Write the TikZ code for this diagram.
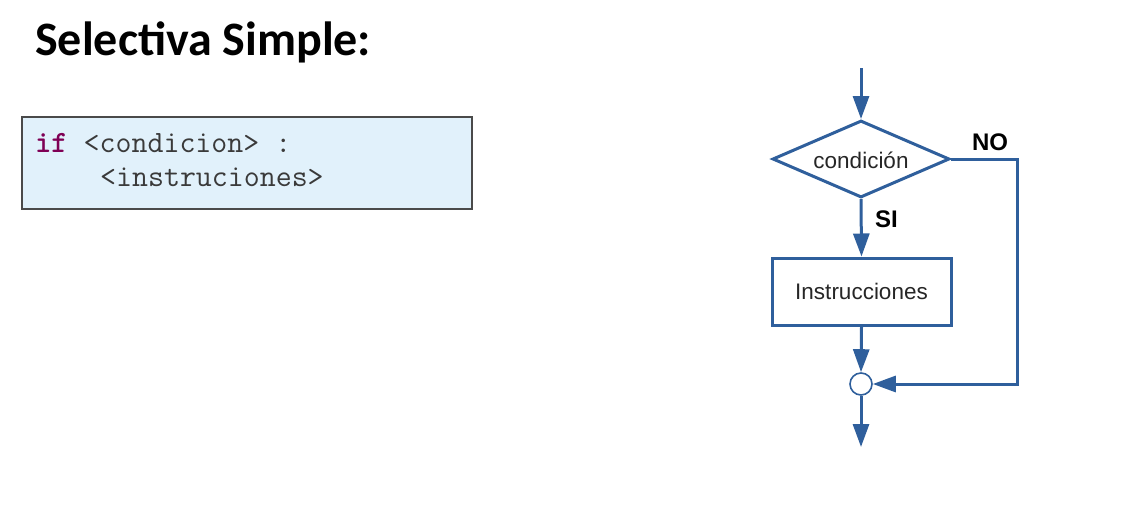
\documentclass[tikz,border=0pt]{standalone}
\usepackage{fontspec}
\setmainfont{Liberation Sans}
\newfontfamily\titlefont{Carlito}
\usetikzlibrary{shapes.geometric,arrows.meta}
\definecolor{flow}{HTML}{2F5F9C}
\definecolor{codebg}{HTML}{E1F1FB}
\definecolor{codeborder}{HTML}{4A4A4A}
\definecolor{codetext}{HTML}{3A3A3A}
\definecolor{kw}{HTML}{7F0055}
\tikzset{
  flowline/.style={draw=flow,line width=3pt},
  flowarrow/.style={flowline,-{Triangle[length=23pt,width=16pt]}},
  lbl/.style={font=\fontsize{22.5}{26}\selectfont,text=black!85},
  blbl/.style={font=\bfseries\fontsize{24}{28}\selectfont,text=black},
  code/.style={anchor=base west,inner sep=0pt,font=\ttfamily\fontsize{31}{36}\selectfont,text=codetext},
}
\begin{document}
\begin{tikzpicture}[x=1pt,y=-1pt]
\useasboundingbox (0,0) rectangle (1145,523);
% title
\node[anchor=base west,inner sep=0pt,font=\titlefont\bfseries\fontsize{48}{56}\selectfont] (title) at (35,55) {Selectiva Simple:};
% code box
\draw[fill=codebg,draw=codeborder,line width=1.6pt] (22,117) rectangle (472,209);
\node[code] (line1) at (35,152) {\textcolor{kw}{\bfseries if} <condicion> :};
\node[code] (line2) at (100,186) {<instruciones>};
% flowchart
\coordinate (start) at (861,68);
\node[diamond,flowline,fill=white,minimum width=177pt,minimum height=77pt,aspect=2.3,inner sep=0pt,lbl] (cond) at (861,159) {};
\node[lbl] at (861,160) {condición};
\node[draw=flow,line width=3pt,minimum width=179pt,minimum height=67pt,inner sep=0pt,lbl] (instr) at (861.5,291.5) {Instrucciones};
\node[circle,draw=flow,line width=1.6pt,fill=white,minimum size=22pt,inner sep=0pt] (join) at (861,384) {};
\coordinate (endp) at (861,447);
\coordinate (corner1) at (1017,159);
\coordinate (corner2) at (1017,384);
\draw[flowarrow] (start) -- (cond.north);
\draw[flowarrow] (cond.south) -- (instr.north);
\draw[flowarrow] (instr.south) -- (join.north);
\draw[flowarrow] (join.south) -- (endp);
\draw[flowarrow,line join=miter] (cond.east) -- (corner1) -- (corner2) -- (join.east);
\node[blbl,anchor=base] (no) at (990,150) {NO};
\node[blbl,anchor=base] (si) at (886.5,227) {SI};
\end{tikzpicture}
\end{document}
